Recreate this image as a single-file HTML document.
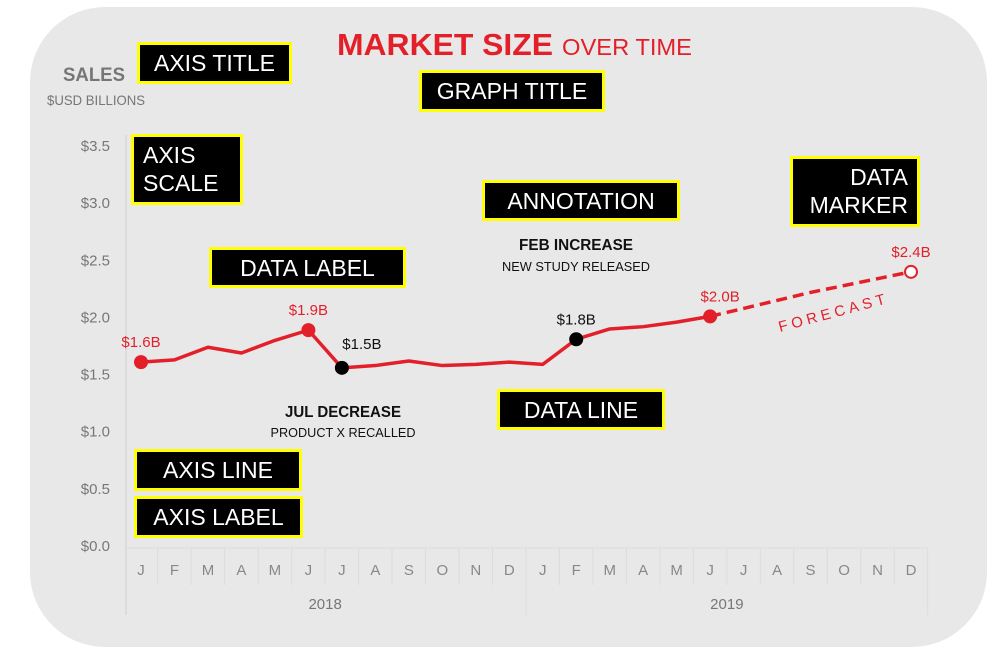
<!DOCTYPE html>
<html><head><meta charset="utf-8"><style>
html,body{margin:0;padding:0;background:#fff;width:1000px;height:654px;overflow:hidden}
svg{display:block;font-family:"Liberation Sans",sans-serif}
</style></head><body>
<svg id="chart" width="1000" height="654" viewBox="0 0 1000 654">
<rect x="30" y="7" width="957" height="640" rx="75" fill="#e8e8e8"/>
<g id="axes"></g>
<g id="series"></g>
<g>
<text x="337" y="55" fill="#e3202a" font-size="31" font-weight="bold" textLength="216" lengthAdjust="spacingAndGlyphs">MARKET SIZE</text>
<text x="562" y="55" fill="#e3202a" font-size="23" textLength="130" lengthAdjust="spacingAndGlyphs">OVER TIME</text>
</g>
<text x="63" y="81" fill="#767676" font-size="19" font-weight="bold" textLength="62" lengthAdjust="spacingAndGlyphs">SALES</text>
<text x="47" y="105" fill="#767676" font-size="14" textLength="98" lengthAdjust="spacingAndGlyphs">$USD BILLIONS</text>
<g>
<text x="343" y="417" text-anchor="middle" font-size="16" font-weight="bold" fill="#111" textLength="116" lengthAdjust="spacingAndGlyphs">JUL DECREASE</text>
<text x="343" y="437" text-anchor="middle" font-size="13" fill="#111" textLength="145" lengthAdjust="spacingAndGlyphs">PRODUCT X RECALLED</text>
</g>
<g>
<text x="576" y="250" text-anchor="middle" font-size="16" font-weight="bold" fill="#111" textLength="114" lengthAdjust="spacingAndGlyphs">FEB INCREASE</text>
<text x="576" y="271" text-anchor="middle" font-size="13" fill="#111" textLength="148" lengthAdjust="spacingAndGlyphs">NEW STUDY RELEASED</text>
</g>
<text x="0" y="0" transform="translate(780,332) rotate(-15)" fill="#e3202a" font-size="15" letter-spacing="4">FORECAST</text>
<g id="callouts"></g>
</svg>
<script>
const months=["J","F","M","A","M","J","J","A","S","O","N","D","J","F","M","A","M","J","J","A","S","O","N","D"];
const years=["2018","2019"];
const actualValues=[1.6,1.62,1.73,1.68,1.79,1.88,1.55,1.57,1.61,1.57,1.58,1.6,1.58,1.8,1.89,1.91,1.95,2.0];
const forecastValues=[2.0,2.07,2.14,2.21,2.27,2.33,2.39];
const yTicks=[0,0.5,1.0,1.5,2.0,2.5,3.0,3.5];
const markerIdx=[0,5,6,13,17];
const markerLabels=["$1.6B","$1.9B","$1.5B","$1.8B","$2.0B"];
const forecastLabel="$2.4B";
const ns="http://www.w3.org/2000/svg";
const X=i=>141+i*(770/23);
const Y=v=>545-v*114.3;
function mk(tag,attrs,parent,txt){const e=document.createElementNS(ns,tag);for(const k in attrs)e.setAttribute(k,attrs[k]);if(txt!==undefined)e.textContent=txt;parent.appendChild(e);return e;}
const axes=document.getElementById('axes'),ser=document.getElementById('series'),cal=document.getElementById('callouts');
let ln=mk('line',{x1:126,y1:135,x2:126,y2:615,stroke:"#d8d8d8","stroke-width":1.5},axes);


yTicks.forEach(v=>{const t=mk('text',{x:110,y:Y(v)+6,"text-anchor":"end","font-size":15,fill:"#777"},axes,"$"+v.toFixed(1));

});
months.forEach((m,i)=>{const t=mk('text',{x:X(i),y:575,"text-anchor":"middle","font-size":15,fill:"#888"},axes,m);


const s=mk('line',{x1:X(i)+16.7,y1:548,x2:X(i)+16.7,y2:(i%12==11)?615:585,stroke:"#dcdcdc","stroke-width":1},axes);

});
mk('line',{x1:126,y1:548,x2:928,y2:548,stroke:"#dcdcdc"},axes);
years.forEach((y,k)=>{const t=mk('text',{x:X(5.5+12*k),y:609,"text-anchor":"middle","font-size":15,fill:"#777"},axes,y);

});
const act=mk('polyline',{points:actualValues.map((v,i)=>X(i)+","+Y(v)).join(" "),fill:"none",stroke:"#e3202a","stroke-width":3.5,"stroke-linejoin":"round"},ser);


const off=actualValues.length-1;
const fc=mk('polyline',{points:forecastValues.map((v,i)=>X(off+i)+","+Y(v)).join(" "),fill:"none",stroke:"#e3202a","stroke-width":3.5,"stroke-dasharray":"11 6"},ser);


markerIdx.forEach((idx,k)=>{const v=actualValues[idx];const black=(idx==6||idx==13);
const c=mk('circle',{cx:X(idx),cy:Y(v),r:7,fill:black?"#000":"#e3202a"},ser);


const dx=(idx==6)?20:(idx==17?10:0);
const t=mk('text',{x:X(idx)+dx,y:Y(v)-(idx==6?19:15),"text-anchor":"middle","font-size":15,fill:black?"#111":"#e3202a"},ser,markerLabels[k]);

});
const li=forecastValues.length-1;
const oc=mk('circle',{cx:X(off+li),cy:Y(forecastValues[li]),r:6,fill:"#fff",stroke:"#e3202a","stroke-width":2},ser);


const ot=mk('text',{x:X(off+li),y:Y(forecastValues[li])-15,"text-anchor":"middle","font-size":15,fill:"#e3202a"},ser,forecastLabel);


const boxes=[
["callout-axis-title",137,42,155,42,["AXIS TITLE"],"middle"],
["callout-graph-title",419,70,186,42,["GRAPH TITLE"],"middle"],
["callout-axis-scale",131,134,112,71,["AXIS","SCALE"],"start"],
["callout-annotation",482,180,198,41,["ANNOTATION"],"middle"],
["callout-data-marker",790,156,130,71,["DATA","MARKER"],"end"],
["callout-data-label",209,247,197,41,["DATA LABEL"],"middle"],
["callout-data-line",497,389,168,41,["DATA LINE"],"middle"],
["callout-axis-line",134,449,168,42,["AXIS LINE"],"middle"],
["callout-axis-label",134,496,169,42,["AXIS LABEL"],"middle"]];
boxes.forEach(b=>{const g=mk('g',{},cal);


mk('rect',{x:b[1]+1.5,y:b[2]+1.5,width:b[3]-3,height:b[4]-3,fill:"#000",stroke:"#ffff00","stroke-width":3},g);
const tx=b[6]=="middle"?b[1]+b[3]/2:(b[6]=="start"?b[1]+12:b[1]+b[3]-12);
b[5].forEach((s,j)=>{mk('text',{x:tx,y:b[4]>60?b[2]+29+j*28:b[2]+29,"text-anchor":b[6],"font-size":23,fill:"#fff"},g,s);});});
</script>
</body></html>
